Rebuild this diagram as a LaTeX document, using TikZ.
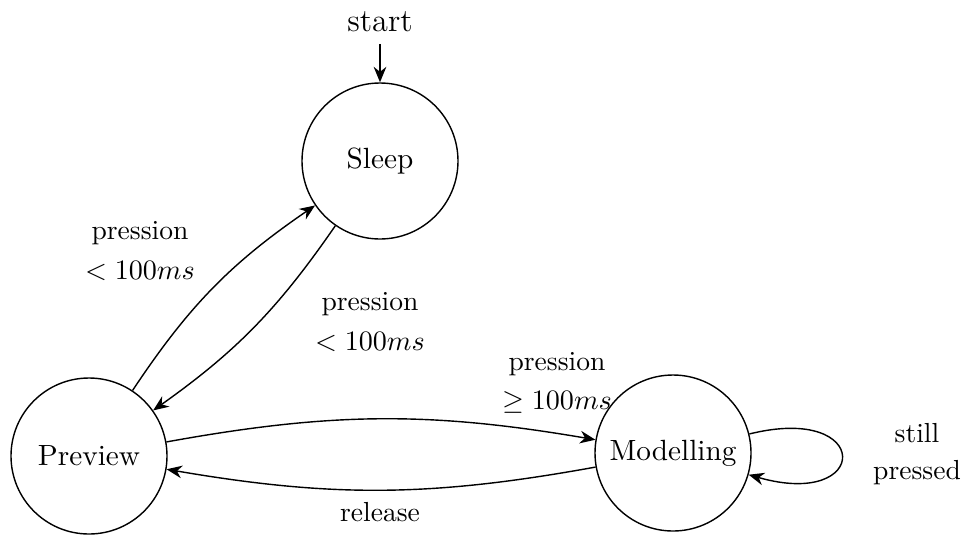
\documentclass[tikz,border=0pt]{standalone}
\usetikzlibrary{arrows.meta}
\begin{document}
\begin{tikzpicture}[
  state/.style={draw, circle, minimum size=1.95cm, inner sep=0pt, line width=0.5pt, font=\fontsize{10.4}{12}\selectfont},
  trans/.style={-{Stealth[length=5.5pt,width=4.5pt]}, line width=0.5pt},
  lbl/.style={align=center, font=\fontsize{9.8}{14}\selectfont}
]
\useasboundingbox (0,0) rectangle (12.1,6.6875);
\node[state] (sleep) at (4.75,4.675) {Sleep};
\node[state] (preview) at (1.1125,0.9875) {Preview};
\node[state] (model) at (8.4125,1.025) {Modelling};
\node[font=\fontsize{11.5}{14}\selectfont, inner sep=4pt] (start) at (4.75,6.4125) {start};

\draw[trans] (start) -- (sleep);
\draw[trans] (preview) to[bend left=11] (sleep);
\draw[trans] (sleep) to[bend left=10] (preview);
\draw[trans] (preview) to[bend left=10] (model);
\draw[trans] (model) to[bend left=10] (preview);
\draw[trans] (model) to[out=14,in=-16,looseness=8] (model);

\node[lbl] (l1) at (1.75,3.55) {pression\\$< 100ms$};
\node[lbl] (l2) at (4.625,2.6625) {pression\\$< 100ms$};
\node[lbl] (l3) at (6.9625,1.9) {pression\\$\geq 100ms$};
\node[lbl] (l4) at (4.75,0.2875) {release};
\node[lbl, font=\fontsize{9.8}{13}\selectfont] (l5) at (11.4625,1.0125) {still\\pressed};
\end{tikzpicture}
\end{document}
